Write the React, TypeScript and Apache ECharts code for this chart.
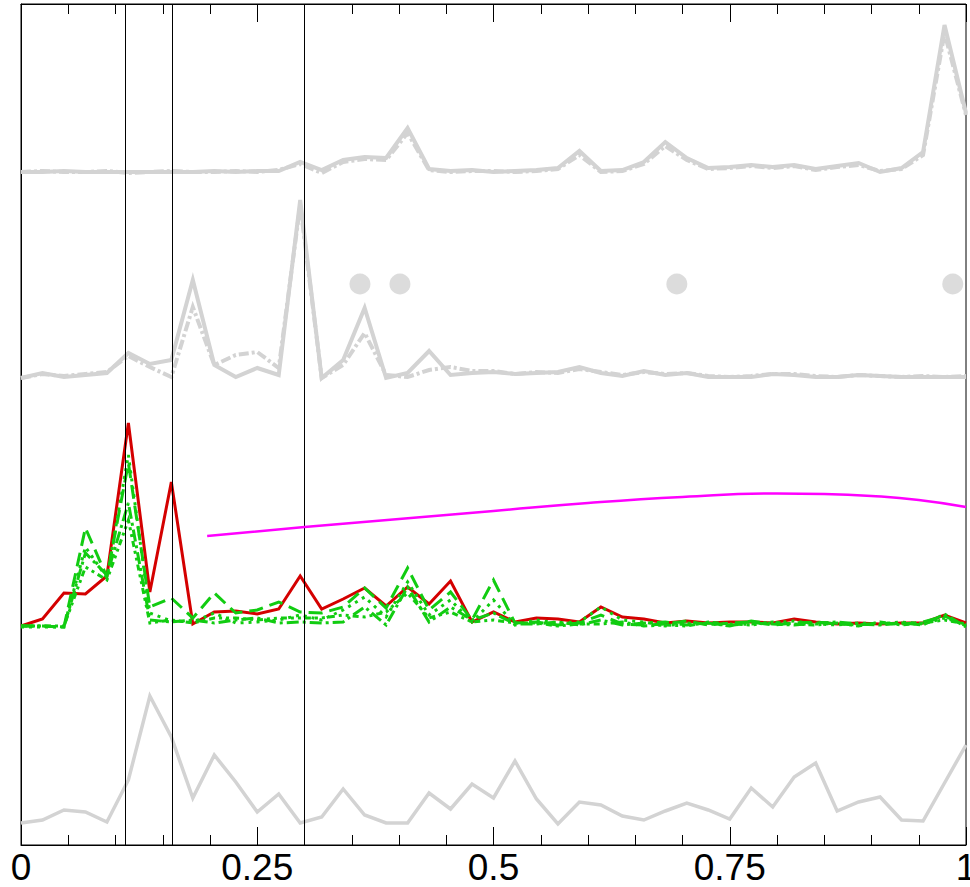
import React, { useEffect, useRef } from "react";
import * as echarts from "echarts";

// Sample grid: 45 evenly spaced samples on [0, 1]
const N_STEPS = 44;

// Vertical marker positions
const MARKERS = [0.1136, 0.1591, 0.2955];

// Bottom trace (light gray)
const BOTTOM_GRAY = [22, 25, 35, 33, 23, 65, 149, 108, 47, 90, 63, 33, 51, 22, 28, 56, 30, 22, 22, 52, 36, 61, 47, 84, 46, 21, 43, 40, 29, 25, 34, 42, 35, 26, 57, 38, 68, 82, 34, 43, 48, 25, 24, 62, 100];

// Main trace (red)
const RED = [219, 226, 252, 251, 269, 422, 253, 363, 221, 233, 234, 231, 236, 269, 236, 246, 257, 239, 258, 241, 264, 223, 233, 223, 227, 226, 223, 238, 228, 226, 222, 224, 222, 223, 223, 222, 226, 223, 221, 222, 221, 222, 222, 230, 222];

// Green traces
const GREEN_A = [219, 219, 218, 317, 268, 382, 238, 247, 227, 252, 232, 235, 243, 233, 232, 238, 257, 237, 277, 235, 253, 225, 265, 222, 223, 220, 222, 230, 221, 220, 221, 224, 220, 222, 223, 220, 222, 223, 221, 220, 222, 221, 223, 229, 219];
const GREEN_B = [218, 218, 218, 298, 267, 390, 232, 224, 223, 232, 222, 223, 225, 230, 225, 235, 248, 228, 263, 230, 245, 223, 245, 220, 225, 222, 223, 238, 225, 223, 219, 222, 221, 220, 221, 222, 224, 221, 220, 222, 221, 223, 221, 227, 220];
const GREEN_C = [219, 219, 218, 292, 270, 342, 225, 223, 225, 222, 225, 227, 222, 223, 222, 223, 238, 220, 258, 223, 238, 225, 232, 221, 221, 223, 220, 225, 220, 222, 223, 220, 222, 219, 224, 221, 220, 222, 223, 221, 220, 222, 220, 231, 218];
const GREEN_D = [219, 219, 219, 278, 265, 325, 222, 225, 222, 227, 227, 225, 227, 227, 227, 230, 228, 233, 252, 227, 233, 223, 225, 222, 222, 219, 221, 221, 223, 219, 220, 219, 223, 221, 220, 223, 221, 220, 222, 219, 223, 220, 222, 225, 221];

// Middle gray traces
const MID_GRAY_A = [467, 472, 468, 470, 472, 492, 481, 485, 565, 480, 468, 477, 470, 645, 467, 485, 537, 467, 472, 494, 470, 472, 473, 471, 472, 473, 478, 472, 469, 474, 470, 472, 468, 468, 468, 471, 470, 468, 468, 470, 469, 468, 468, 468, 468];
const MID_GRAY_B = [467, 471, 469, 471, 473, 489, 478, 468, 538, 480, 490, 493, 477, 640, 467, 480, 512, 470, 468, 475, 478, 474, 474, 471, 473, 472, 476, 473, 470, 473, 471, 472, 469, 468, 469, 471, 471, 469, 468, 470, 469, 468, 469, 468, 469];

// Top gray traces
const TOP_GRAY_A = [673, 673, 674, 673, 673, 673, 673, 673, 673, 674, 673, 674, 674, 683, 675, 685, 688, 687, 717, 676, 674, 675, 673, 674, 675, 677, 694, 674, 675, 683, 703, 687, 677, 678, 680, 678, 680, 676, 679, 682, 673, 677, 693, 820, 732];
const TOP_GRAY_B = [673, 674, 673, 673, 674, 672, 673, 674, 673, 673, 674, 673, 675, 681, 672, 683, 686, 685, 712, 675, 673, 674, 674, 673, 674, 676, 690, 673, 674, 681, 699, 685, 676, 677, 679, 677, 679, 675, 678, 680, 674, 676, 690, 812, 730];

// Gray dots
const DOT_X = [0.3587, 0.401, 0.694, 0.986];
const DOT_Y = [561, 561, 561, 561];

// Magenta smooth curve
const MAGENTA_X = [0.197, 0.3, 0.4, 0.5, 0.6, 0.7, 0.8, 0.85, 0.9, 0.95, 1.0];
const MAGENTA_Y = [309, 318, 326, 334, 342, 348, 351.5, 351, 349, 345, 338];

const Y_MAX = 841;

const toPairs = (ys: number[]) => ys.map((y, i) => [i / N_STEPS, y]);

export default function App() {
  const ref = useRef<HTMLDivElement>(null);

  useEffect(() => {
    if (!ref.current) return;
    const chart = echarts.init(ref.current, null, { renderer: "svg" });

    const line = (
      data: number[][],
      color: string,
      width: number,
      type: any = "solid",
      z = 2,
      extra: any = {}
    ) => ({
      type: "line",
      data,
      symbol: "none",
      lineStyle: { color, width, type, cap: "butt", join: "miter" },
      z,
      silent: true,
      ...extra,
    });

    const GRAY = "#d3d3d3";
    const GREEN = "#11cc11";

    chart.setOption({
      animation: false,
      backgroundColor: "#ffffff",
      grid: {
        left: 21,
        top: 4,
        right: 4,
        bottom: 42,
        show: true,
        borderColor: "#000",
        borderWidth: 1,
        backgroundColor: "transparent",
        containLabel: false,
        outerBoundsMode: "none",
      },
      xAxis: [
        {
          type: "value",
          min: 0,
          max: 1,
          interval: 0.25,
          position: "bottom",
          axisLine: { show: true, lineStyle: { color: "#000", width: 1 } },
          axisTick: { show: true, inside: true, length: 18, lineStyle: { color: "#000", width: 1 } },
          minorTick: { show: true, splitNumber: 5, length: 10, lineStyle: { color: "#000", width: 1 } },
          splitLine: { show: false },
          axisLabel: {
            show: true,
            color: "#000",
            fontSize: 37,
            lineHeight: 26,
            fontFamily: "Liberation Sans, Arial, sans-serif",
            margin: 9,
            showMinLabel: true,
            showMaxLabel: true,
            hideOverlap: false,
          },
        },
        {
          type: "value",
          min: 0,
          max: 1,
          interval: 0.25,
          position: "top",
          axisLine: { show: true, lineStyle: { color: "#000", width: 1 } },
          axisTick: { show: true, inside: true, length: 18, lineStyle: { color: "#000", width: 1 } },
          minorTick: { show: true, splitNumber: 5, length: 10, lineStyle: { color: "#000", width: 1 } },
          splitLine: { show: false },
          axisLabel: { show: false },
        },
      ],
      yAxis: {
        type: "value",
        min: 0,
        max: Y_MAX,
        axisLine: { show: true, lineStyle: { color: "#000", width: 1 } },
        axisTick: { show: false },
        axisLabel: { show: false },
        splitLine: { show: false },
      },
      series: [
        line(toPairs(BOTTOM_GRAY), GRAY, 3.5, "solid", 2),
        line(toPairs(TOP_GRAY_B), GRAY, 4, [10, 3, 3, 3], 2),
        line(toPairs(TOP_GRAY_A), GRAY, 4, "solid", 2),
        line(toPairs(MID_GRAY_B), GRAY, 4, [10, 3, 3, 3], 2),
        line(toPairs(MID_GRAY_A), GRAY, 4, "solid", 2),
        {
          type: "scatter",
          data: DOT_X.map((x, i) => [x, DOT_Y[i]]),
          symbol: "circle",
          symbolSize: 21,
          itemStyle: { color: GRAY },
          silent: true,
          z: 2,
        },
        line(toPairs(RED), "#d40000", 3, "solid", 3, {
          markLine: {
            silent: true,
            symbol: "none",
            label: { show: false },
            lineStyle: { color: "#000", width: 1, type: "solid" },
            data: MARKERS.map((x) => ({ xAxis: x })),
          },
        }),
        line(toPairs(GREEN_A), GREEN, 3, [14, 7], 4),
        line(toPairs(GREEN_B), GREEN, 3, [3, 5], 4),
        line(toPairs(GREEN_C), GREEN, 3, [12, 4, 3, 4], 4),
        line(toPairs(GREEN_D), GREEN, 3, [6, 4, 3, 4, 3, 4], 4),
        line(
          MAGENTA_X.map((x, i) => [x, MAGENTA_Y[i]]),
          "#ff00ff",
          2.5,
          "solid",
          5,
          { smooth: true }
        ),
      ],
    });

    return () => chart.dispose();
  }, []);

  return (
    <div
      ref={ref}
      style={{ position: "fixed", left: 0, top: 0, width: 970, height: 887, background: "#fff" }}
    />
  );
}
